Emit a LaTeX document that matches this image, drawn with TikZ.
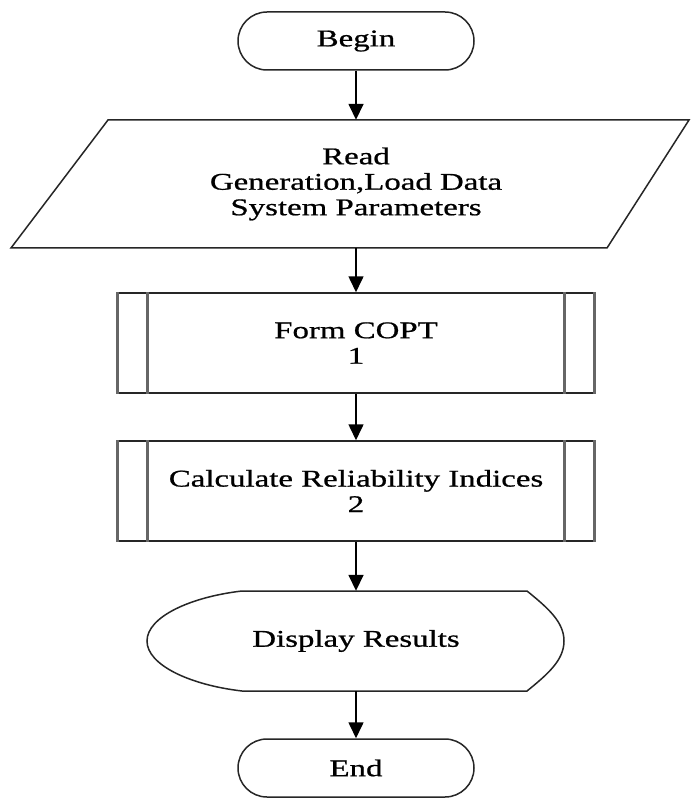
\documentclass[tikz,border=0pt]{standalone}
\usepackage{fontspec}
\setmainfont[FakeStretch=1.37,FakeBold=0.8]{Liberation Serif}
\usetikzlibrary{arrows.meta,shapes.misc,calc}

\begin{document}
\begin{tikzpicture}[x=1pt,y=-1pt,
  every node/.style={align=center, inner sep=0pt, font=\fontsize{24}{25.5}\selectfont},
  outline/.style={draw=black!85, line width=1.5pt},
  term/.style={outline, rounded rectangle, minimum width=236pt, minimum height=58pt},
  subproc/.style={outline, rectangle, minimum width=475pt, minimum height=100pt},
  bar/.style={draw=black!60, line width=3pt},
  flow/.style={draw=black, line width=1.6pt, -{Triangle[length=16pt,width=15pt]}}]

  \fill[white] (0,0) rectangle (691,799);
  \useasboundingbox (0,0) rectangle (691,799);

  % start terminal
  \node[term] (begin) at (356,41) {Begin};

  % input / output parallelogram
  \draw[outline] (108,120) -- (689,120) -- (607,248) -- (11,248) -- cycle;
  \node[minimum width=400pt, minimum height=128pt] (read) at (356,184)
    {Read\\Generation,Load Data\\System Parameters};

  % predefined processes
  \node[subproc] (copt) at (356,343) {Form COPT\\1};
  \node[subproc] (calc) at (356,491) {Calculate Reliability Indices\\2};
  \foreach \b in {copt,calc}{
    \draw[bar] (\b.north west) -- (\b.south west);
    \draw[bar] (\b.north east) -- (\b.south east);
    \draw[bar] ($(\b.north west)+(30,0)$) -- ($(\b.south west)+(30,0)$);
    \draw[bar] ($(\b.north east)+(-30,0)$) -- ($(\b.south east)+(-30,0)$);
  }

  % display symbol
  \draw[outline] (242,591) -- (527,591)
    .. controls (548,608) and (564,622) .. (564,641)
    .. controls (564,660) and (548,674) .. (527,691)
    -- (242,691)
    .. controls (190,685) and (147,665) .. (147,641)
    .. controls (147,617) and (190,597) .. (242,591) -- cycle;
  \node[minimum width=400pt, minimum height=100pt] (disp) at (356,641) {Display Results};

  % end terminal
  \node[term] (end) at (356,768) {End};

  % flow lines
  \draw[flow] (begin.south) -- (read.north);
  \draw[flow] (read.south) -- (copt.north);
  \draw[flow] (copt.south) -- (calc.north);
  \draw[flow] (calc.south) -- (disp.north);
  \draw[flow] (disp.south) -- (end.north);
\end{tikzpicture}
\end{document}
